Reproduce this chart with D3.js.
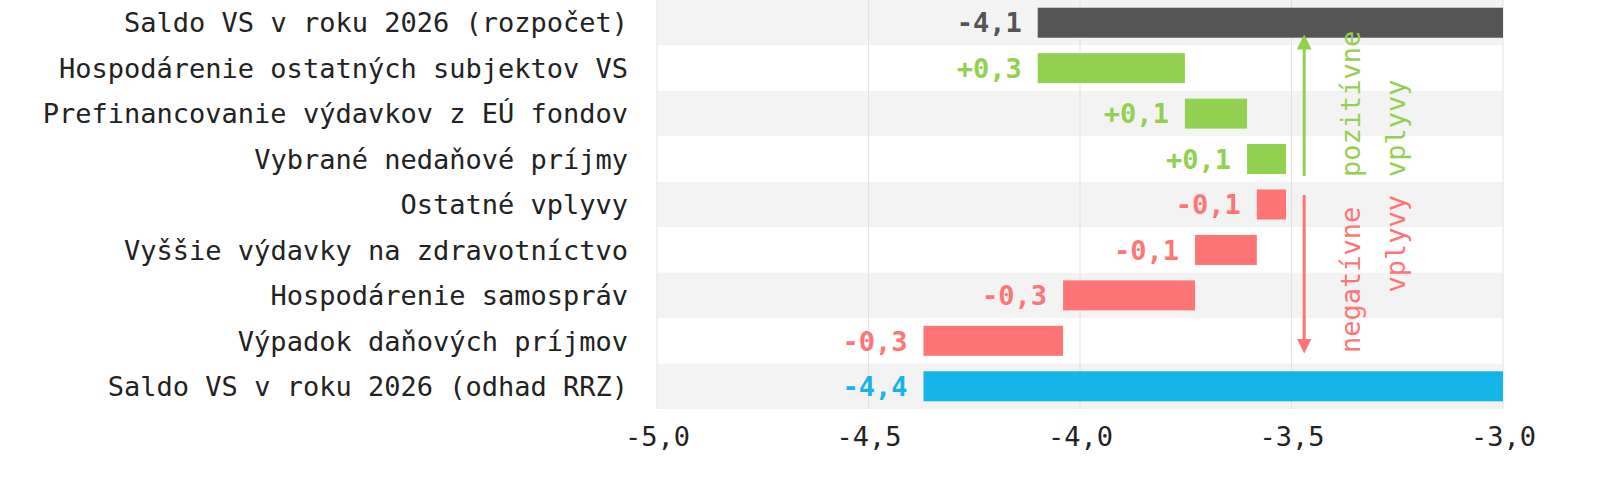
<!DOCTYPE html>
<html><head><meta charset="utf-8">
<script src="https://cdn.jsdelivr.net/npm/d3@7"></script>
<style>body{margin:0;background:#fff}text{font-family:"DejaVu Sans Mono","Liberation Mono",monospace}</style>
</head><body><svg id="c" width="1600" height="487"></svg>
<script>
const categories = ["Saldo VS v roku 2026 (rozpočet)","Hospodárenie ostatných subjektov VS","Prefinancovanie výdavkov z EÚ fondov","Vybrané nedaňové príjmy","Ostatné vplyvy","Vyššie výdavky na zdravotníctvo","Hospodárenie samospráv","Výpadok daňových príjmov","Saldo VS v roku 2026 (odhad RRZ)"];
const barStart = [-4.10,-4.10,-3.752,-3.605,-3.513,-3.582,-3.728,-4.040,-4.370];
const barEnd   = [-3.00,-3.752,-3.605,-3.513,-3.582,-3.728,-4.040,-4.370,-3.00];
const valueLabels = ["-4,1","+0,3","+0,1","+0,1","-0,1","-0,1","-0,3","-0,3","-4,4"];
const kinds = ["total","pos","pos","pos","neg","neg","neg","neg","result"];
const ticks = [-5,-4.5,-4,-3.5,-3];
const colors = {total:"#555555",pos:"#92d050",neg:"#ff7575",result:"#15b4e9"};

const svg = d3.select("#c");
const x = d3.scaleLinear().domain([-5,-3]).range([657,1503]);
const y = d3.scaleBand().domain(categories).range([0,409]).paddingInner(0);

svg.selectAll(".bg").data(categories).join("rect")
  .attr("x",657).attr("width",846).attr("y",d=>y(d)).attr("height",y.bandwidth())
  .attr("fill",(d,i)=>i%2===0?"#f3f3f3":"#fff");
svg.selectAll(".grid").data(ticks).join("line")
  .attr("x1",d=>x(d)).attr("x2",d=>x(d)).attr("y1",0).attr("y2",409)
  .attr("stroke","#e2e2e2").attr("stroke-width",1);

const bh = 30;
svg.selectAll(".bar").data(categories).join("rect")
  .attr("x",(d,i)=>x(Math.min(barStart[i],barEnd[i])))
  .attr("width",(d,i)=>Math.abs(x(barEnd[i])-x(barStart[i])))
  .attr("y",d=>y(d)+(y.bandwidth()-bh)/2).attr("height",bh)
  .attr("fill",(d,i)=>colors[kinds[i]]);

svg.selectAll(".vl").data(categories).join("text")
  .attr("x",(d,i)=>x(Math.min(barStart[i],barEnd[i]))-16)
  .attr("y",d=>y(d)+y.bandwidth()/2).attr("dy","0.36em")
  .attr("text-anchor","end").attr("font-size",27).attr("font-weight","bold")
  .attr("fill",(d,i)=>colors[kinds[i]]).text((d,i)=>valueLabels[i]);

svg.selectAll(".cl").data(categories).join("text")
  .attr("x",628).attr("y",d=>y(d)+y.bandwidth()/2).attr("dy","0.36em")
  .attr("text-anchor","end").attr("font-size",27).attr("fill","#222").text(d=>d);

const ax = svg.append("g").attr("transform","translate(0,409)")
  .call(d3.axisBottom(x).tickValues(ticks).tickSize(0).tickPadding(18)
    .tickFormat(d=>d3.format(".1f")(d).replace(".",",").replace("−","-")));
ax.select(".domain").remove();
ax.selectAll("text").attr("font-size",27).attr("fill","#222");

// arrows
const defs = svg.append("defs");
[["g","#92d050"],["r","#ff7575"]].forEach(([id,c])=>{
  defs.append("marker").attr("id","m"+id).attr("viewBox","0 0 10 10").attr("refX",5).attr("refY",5)
    .attr("markerWidth",5).attr("markerHeight",5).attr("orient","auto-start-reverse")
    .append("path").attr("d","M0,0L10,5L0,10z").attr("fill",c);
});
const ax0 = x(-3.47);
svg.append("line").attr("x1",ax0).attr("x2",ax0).attr("y1",176).attr("y2",42)
  .attr("stroke","#92d050").attr("stroke-width",3).attr("marker-end","url(#mg)");
svg.append("line").attr("x1",ax0).attr("x2",ax0).attr("y1",195).attr("y2",346)
  .attr("stroke","#ff7575").attr("stroke-width",3).attr("marker-end","url(#mr)");
function vtext(tx,ty,t,c,anchor){
  svg.append("text").attr("transform",`translate(${tx},${ty}) rotate(-90)`)
    .attr("text-anchor",anchor).attr("font-size",27).attr("fill",c).text(t);
}
vtext(1360,177,"pozitívne","#92d050","start");
vtext(1405,177,"vplyvy","#92d050","start");
vtext(1360,353,"negatívne","#ff7575","start");
vtext(1405,195,"vplyvy","#ff7575","end");
</script></body></html>
